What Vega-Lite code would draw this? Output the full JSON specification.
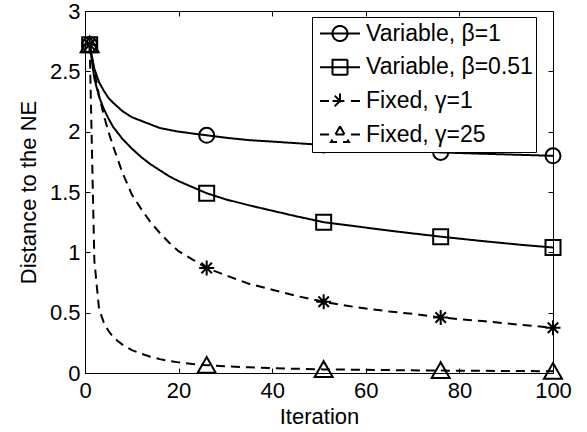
{
  "$schema": "https://vega.github.io/schema/vega-lite/v6.json",
  "width": 468,
  "height": 362,
  "autosize": {"type": "none"},
  "padding": {"left": 85, "top": 11, "right": 34, "bottom": 59},
  "background": "white",
  "config": {
    "font": "Liberation Sans",
    "view": {"stroke": "black", "strokeWidth": 1},
    "axis": {
      "domain": false,
      "grid": true,
      "gridColor": "#555555",
      "gridDash": [1, 3],
      "gridWidth": 1,
      "gridOpacity": 1,
      "ticks": true,
      "tickColor": "black",
      "tickSize": -5,
      "tickWidth": 1,
      "labelFont": "Liberation Sans",
      "labelFontSize": 22,
      "labelColor": "black",
      "titleFont": "Liberation Sans",
      "titleFontSize": 22,
      "titleFontWeight": "normal",
      "titleColor": "black",
      "labelFlush": false,
      "labelOverlap": false,
      "labelBound": false
    }
  },
  "data": {
    "values": [
      {"x": 1, "y": 2.72, "s": "Variable, β=1"},
      {"x": 2, "y": 2.52, "s": "Variable, β=1"},
      {"x": 3, "y": 2.41, "s": "Variable, β=1"},
      {"x": 4, "y": 2.34, "s": "Variable, β=1"},
      {"x": 5, "y": 2.28, "s": "Variable, β=1"},
      {"x": 6, "y": 2.24, "s": "Variable, β=1"},
      {"x": 8, "y": 2.17, "s": "Variable, β=1"},
      {"x": 10, "y": 2.12, "s": "Variable, β=1"},
      {"x": 12, "y": 2.09, "s": "Variable, β=1"},
      {"x": 14, "y": 2.06, "s": "Variable, β=1"},
      {"x": 16, "y": 2.03, "s": "Variable, β=1"},
      {"x": 18, "y": 2.015, "s": "Variable, β=1"},
      {"x": 20, "y": 2.0, "s": "Variable, β=1"},
      {"x": 23, "y": 1.985, "s": "Variable, β=1"},
      {"x": 26, "y": 1.97, "s": "Variable, β=1"},
      {"x": 30, "y": 1.95, "s": "Variable, β=1"},
      {"x": 35, "y": 1.93, "s": "Variable, β=1"},
      {"x": 40, "y": 1.918, "s": "Variable, β=1"},
      {"x": 45, "y": 1.905, "s": "Variable, β=1"},
      {"x": 51, "y": 1.89, "s": "Variable, β=1"},
      {"x": 58, "y": 1.87, "s": "Variable, β=1"},
      {"x": 65, "y": 1.855, "s": "Variable, β=1"},
      {"x": 70, "y": 1.843, "s": "Variable, β=1"},
      {"x": 76, "y": 1.828, "s": "Variable, β=1"},
      {"x": 85, "y": 1.817, "s": "Variable, β=1"},
      {"x": 93, "y": 1.808, "s": "Variable, β=1"},
      {"x": 100, "y": 1.8, "s": "Variable, β=1"},

      {"x": 1, "y": 2.72, "s": "Variable, β=0.51"},
      {"x": 2, "y": 2.44, "s": "Variable, β=0.51"},
      {"x": 3, "y": 2.29, "s": "Variable, β=0.51"},
      {"x": 4, "y": 2.19, "s": "Variable, β=0.51"},
      {"x": 5, "y": 2.11, "s": "Variable, β=0.51"},
      {"x": 6, "y": 2.04, "s": "Variable, β=0.51"},
      {"x": 8, "y": 1.94, "s": "Variable, β=0.51"},
      {"x": 10, "y": 1.86, "s": "Variable, β=0.51"},
      {"x": 12, "y": 1.79, "s": "Variable, β=0.51"},
      {"x": 14, "y": 1.73, "s": "Variable, β=0.51"},
      {"x": 16, "y": 1.68, "s": "Variable, β=0.51"},
      {"x": 18, "y": 1.63, "s": "Variable, β=0.51"},
      {"x": 20, "y": 1.59, "s": "Variable, β=0.51"},
      {"x": 23, "y": 1.54, "s": "Variable, β=0.51"},
      {"x": 26, "y": 1.49, "s": "Variable, β=0.51"},
      {"x": 30, "y": 1.44, "s": "Variable, β=0.51"},
      {"x": 35, "y": 1.39, "s": "Variable, β=0.51"},
      {"x": 40, "y": 1.345, "s": "Variable, β=0.51"},
      {"x": 45, "y": 1.30, "s": "Variable, β=0.51"},
      {"x": 51, "y": 1.25, "s": "Variable, β=0.51"},
      {"x": 58, "y": 1.215, "s": "Variable, β=0.51"},
      {"x": 65, "y": 1.18, "s": "Variable, β=0.51"},
      {"x": 70, "y": 1.157, "s": "Variable, β=0.51"},
      {"x": 76, "y": 1.13, "s": "Variable, β=0.51"},
      {"x": 85, "y": 1.093, "s": "Variable, β=0.51"},
      {"x": 93, "y": 1.063, "s": "Variable, β=0.51"},
      {"x": 100, "y": 1.04, "s": "Variable, β=0.51"},

      {"x": 1, "y": 2.72, "s": "Fixed, γ=1"},
      {"x": 2, "y": 2.50, "s": "Fixed, γ=1"},
      {"x": 3, "y": 2.30, "s": "Fixed, γ=1"},
      {"x": 4, "y": 2.14, "s": "Fixed, γ=1"},
      {"x": 5, "y": 2.00, "s": "Fixed, γ=1"},
      {"x": 6, "y": 1.88, "s": "Fixed, γ=1"},
      {"x": 8, "y": 1.66, "s": "Fixed, γ=1"},
      {"x": 10, "y": 1.48, "s": "Fixed, γ=1"},
      {"x": 12, "y": 1.36, "s": "Fixed, γ=1"},
      {"x": 14, "y": 1.25, "s": "Fixed, γ=1"},
      {"x": 16, "y": 1.16, "s": "Fixed, γ=1"},
      {"x": 18, "y": 1.08, "s": "Fixed, γ=1"},
      {"x": 20, "y": 1.01, "s": "Fixed, γ=1"},
      {"x": 23, "y": 0.94, "s": "Fixed, γ=1"},
      {"x": 26, "y": 0.87, "s": "Fixed, γ=1"},
      {"x": 30, "y": 0.81, "s": "Fixed, γ=1"},
      {"x": 35, "y": 0.74, "s": "Fixed, γ=1"},
      {"x": 40, "y": 0.69, "s": "Fixed, γ=1"},
      {"x": 45, "y": 0.64, "s": "Fixed, γ=1"},
      {"x": 51, "y": 0.59, "s": "Fixed, γ=1"},
      {"x": 58, "y": 0.545, "s": "Fixed, γ=1"},
      {"x": 65, "y": 0.51, "s": "Fixed, γ=1"},
      {"x": 70, "y": 0.49, "s": "Fixed, γ=1"},
      {"x": 76, "y": 0.46, "s": "Fixed, γ=1"},
      {"x": 85, "y": 0.43, "s": "Fixed, γ=1"},
      {"x": 93, "y": 0.40, "s": "Fixed, γ=1"},
      {"x": 100, "y": 0.375, "s": "Fixed, γ=1"},

      {"x": 1, "y": 2.72, "s": "Fixed, γ=25"},
      {"x": 2, "y": 0.93, "s": "Fixed, γ=25"},
      {"x": 3, "y": 0.53, "s": "Fixed, γ=25"},
      {"x": 4, "y": 0.42, "s": "Fixed, γ=25"},
      {"x": 5, "y": 0.35, "s": "Fixed, γ=25"},
      {"x": 6, "y": 0.30, "s": "Fixed, γ=25"},
      {"x": 7, "y": 0.265, "s": "Fixed, γ=25"},
      {"x": 8, "y": 0.235, "s": "Fixed, γ=25"},
      {"x": 10, "y": 0.19, "s": "Fixed, γ=25"},
      {"x": 12, "y": 0.16, "s": "Fixed, γ=25"},
      {"x": 14, "y": 0.135, "s": "Fixed, γ=25"},
      {"x": 16, "y": 0.115, "s": "Fixed, γ=25"},
      {"x": 18, "y": 0.10, "s": "Fixed, γ=25"},
      {"x": 20, "y": 0.088, "s": "Fixed, γ=25"},
      {"x": 23, "y": 0.075, "s": "Fixed, γ=25"},
      {"x": 26, "y": 0.065, "s": "Fixed, γ=25"},
      {"x": 30, "y": 0.055, "s": "Fixed, γ=25"},
      {"x": 35, "y": 0.047, "s": "Fixed, γ=25"},
      {"x": 40, "y": 0.04, "s": "Fixed, γ=25"},
      {"x": 45, "y": 0.035, "s": "Fixed, γ=25"},
      {"x": 51, "y": 0.03, "s": "Fixed, γ=25"},
      {"x": 58, "y": 0.027, "s": "Fixed, γ=25"},
      {"x": 65, "y": 0.024, "s": "Fixed, γ=25"},
      {"x": 76, "y": 0.02, "s": "Fixed, γ=25"},
      {"x": 85, "y": 0.018, "s": "Fixed, γ=25"},
      {"x": 93, "y": 0.016, "s": "Fixed, γ=25"},
      {"x": 100, "y": 0.015, "s": "Fixed, γ=25"}
    ]
  },
  "encoding": {
    "x": {
      "field": "x",
      "type": "quantitative",
      "scale": {"domain": [0, 100], "nice": false, "zero": false},
      "axis": {
        "title": "Iteration",
        "values": [0, 20, 40, 60, 80, 100],
        "format": "d",
        "labelPadding": 12,
        "titlePadding": 5
      }
    },
    "y": {
      "field": "y",
      "type": "quantitative",
      "scale": {"domain": [0, 3], "nice": false},
      "axis": {
        "title": "Distance to the NE",
        "values": [0, 0.5, 1, 1.5, 2, 2.5, 3],
        "format": "~g",
        "labelPadding": 10,
        "titlePadding": 9
      }
    }
  },
  "layer": [
    {
      "mark": {"type": "line", "color": "black", "strokeWidth": 2},
      "encoding": {
        "x": {
          "field": "x",
          "type": "quantitative",
          "scale": {"domain": [0, 100], "nice": false, "zero": false},
          "axis": {
            "orient": "top",
            "title": null,
            "values": [0, 20, 40, 60, 80, 100],
            "labels": false,
            "grid": false
          }
        },
        "y": {
          "field": "y",
          "type": "quantitative",
          "scale": {"domain": [0, 3], "nice": false},
          "axis": {
            "orient": "right",
            "title": null,
            "values": [0, 0.5, 1, 1.5, 2, 2.5, 3],
            "labels": false,
            "grid": false
          }
        },
        "strokeDash": {
          "field": "s",
          "type": "nominal",
          "sort": null,
          "scale": {"range": [[1, 0], [1, 0], [9, 6], [9, 6]]},
          "legend": {
            "orient": "none",
            "legendX": 227,
            "legendY": 6,
            "title": null,
            "padding": 3,
            "clipHeight": 27,
            "rowPadding": 6.7,
            "symbolOffset": 4,
            "labelOffset": 5,
            "symbolType": "stroke",
            "symbolSize": 1600,
            "symbolStrokeWidth": 2,
            "symbolStrokeColor": "black",
            "symbolOpacity": 1,
            "labelFontSize": 23,
            "labelFont": "Liberation Sans",
            "labelColor": "black",
            "labelLimit": 500,
            "fillColor": "white",
            "strokeColor": "black",
            "encode": {
              "symbols": {
                "update": {
                  "shape": {"signal": "datum.value === 'Variable, β=1' ? 'M-1,0L1,0M0.375,0A0.375,0.375,0,1,1,-0.375,0A0.375,0.375,0,1,1,0.375,0Z' : datum.value === 'Variable, β=0.51' ? 'M-1,0L1,0M-0.375,-0.375L0.375,-0.375L0.375,0.375L-0.375,0.375Z' : datum.value === 'Fixed, γ=1' ? 'M-1,0L-0.55,0M-0.22,0L0.22,0M0.55,0L1,0M0,-0.375L0,0.375M-0.375,0L0.375,0M-0.265,-0.265L0.265,0.265M-0.265,0.265L0.265,-0.265' : 'M-1,0L-0.55,0M-0.22,0L0.22,0M0.55,0L1,0M0,-0.41L0.45,0.375L-0.45,0.375Z'"},
                  "strokeDash": {"value": [1, 0]},
                  "fill": {"value": "transparent"},
                  "stroke": {"value": "black"},
                  "strokeWidth": {"value": 2},
                  "opacity": {"value": 1}
                }
              }
            }
          }
        }
      }
    },
    {
      "transform": [{"filter": {"field": "x", "oneOf": [1, 26, 51, 76, 100]}}],
      "mark": {"type": "point", "filled": false, "color": "black", "strokeWidth": 2, "size": 225, "opacity": 1},
      "encoding": {
        "shape": {
          "field": "s",
          "type": "nominal",
          "sort": null,
          "scale": {
            "range": [
              "circle",
              "square",
              "M0,-1L0,1M-1,0L1,0M-0.7,-0.7L0.7,0.7M-0.7,0.7L0.7,-0.7",
              "M0,-1.1L1.2,1L-1.2,1Z"
            ]
          },
          "legend": null
        }
      }
    }
  ],
  "resolve": {"axis": {"x": "independent", "y": "independent"}}
}
